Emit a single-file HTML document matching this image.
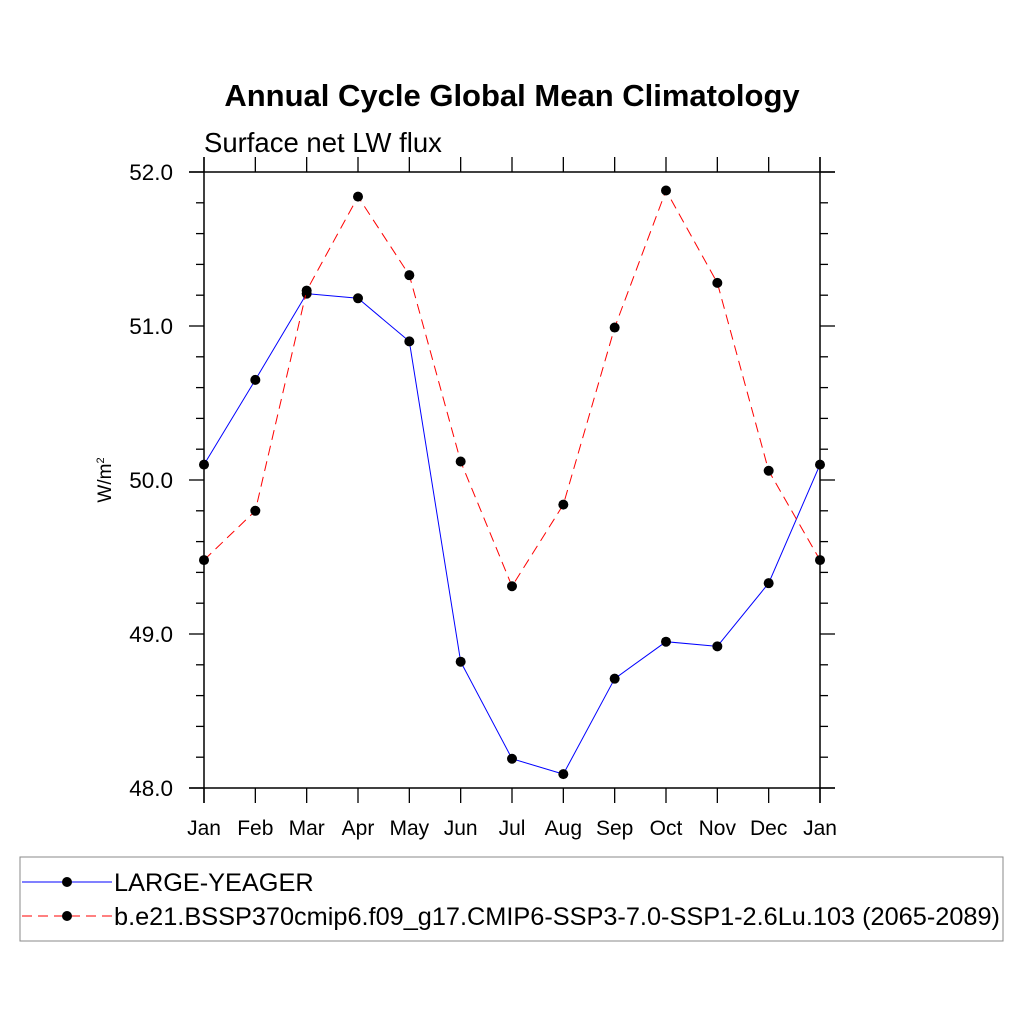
<!DOCTYPE html>
<html><head><meta charset="utf-8"><style>
body{margin:0;background:#fff}
svg text{font-family:"Liberation Sans",sans-serif}
</style></head><body>
<svg id="c" width="1024" height="1024" xmlns="http://www.w3.org/2000/svg">
<text x="512" y="106" text-anchor="middle" font-size="31" font-weight="bold">Annual Cycle Global Mean Climatology</text>
<text x="204" y="152" font-size="27.5">Surface net LW flux</text>
<text transform="translate(111,480) rotate(-90)" text-anchor="middle" font-size="19">W/m<tspan font-size="11" dy="-7">2</tspan></text>
<g id="axes"></g><g id="series"></g>
<rect x="20" y="857" width="983" height="84" fill="none" stroke="#888" stroke-width="1"/>
<g>
<line x1="22" y1="882" x2="112" y2="882" stroke="#00f" stroke-width="1"/>
<circle cx="67" cy="882" r="5" fill="#000"/>
<text x="114" y="891" font-size="25.3">LARGE-YEAGER</text></g>
<g>
<line x1="22" y1="916" x2="112" y2="916" stroke="#f00" stroke-width="1" stroke-dasharray="10,6"/>
<circle cx="67" cy="916" r="5" fill="#000"/>
<text x="114" y="925" font-size="25.3">b.e21.BSSP370cmip6.f09_g17.CMIP6-SSP3-7.0-SSP1-2.6Lu.103 (2065-2089)</text></g>
</svg>
<script>
const months=["Jan","Feb","Mar","Apr","May","Jun","Jul","Aug","Sep","Oct","Nov","Dec","Jan"];
const blueVals=[50.10,50.65,51.21,51.18,50.90,48.82,48.19,48.09,48.71,48.95,48.92,49.33,50.10];
const redVals=[49.48,49.80,51.23,51.84,51.33,50.12,49.31,49.84,50.99,51.88,51.28,50.06,49.48];
const yTicks=[48,49,50,51,52];
const yTickLabels=["48.0","49.0","50.0","51.0","52.0"];
const X0=204,X1=820,Y0=788,Y1=172,YMIN=48,YMAX=52;
const xs=i=>X0+(X1-X0)*i/(months.length-1);
const ys=v=>Y0-(v-YMIN)/(YMAX-YMIN)*(Y0-Y1);
const NS="http://www.w3.org/2000/svg";
function mk(t,a,p){const e=document.createElementNS(NS,t);for(const k in a)e.setAttribute(k,a[k]);p.appendChild(e);return e;}
const ax=document.getElementById('axes');
const frame=mk('path',{d:`M189 ${Y1}H835M189 ${Y0}H835M${X0} 157V803M${X1} 157V803`,stroke:'#000','stroke-width':1.5,fill:'none'},ax);


months.forEach((m,i)=>{
  const x=xs(i);
  mk('line',{x1:x,y1:Y0,x2:x,y2:Y0+15,stroke:'#000','stroke-width':1.3},ax);
  mk('line',{x1:x,y1:Y1,x2:x,y2:Y1-15,stroke:'#000','stroke-width':1.3},ax);
  const t=mk('text',{x:x,y:835,'text-anchor':'middle','font-size':21},ax);t.textContent=m;
  
  
});
for(let v=YMIN;v<=YMAX+1e-9;v+=0.2){
  const y=ys(v);const major=Math.abs(v-Math.round(v))<1e-6;const L=major?15:8;
  mk('line',{x1:X0-L,y1:y,x2:X0,y2:y,stroke:'#000','stroke-width':1.3},ax);
  mk('line',{x1:X1,y1:y,x2:X1+L,y2:y,stroke:'#000','stroke-width':1.3},ax);
}
yTicks.forEach((v,i)=>{
  const t=mk('text',{x:173,y:ys(v)+8,'text-anchor':'end','font-size':22.5},ax);t.textContent=yTickLabels[i];
  
  
});
const sg=document.getElementById('series');
function series(vals,color,dash,name){
  const g=mk('g',{},sg);
  
  
  const a={points:vals.map((v,i)=>xs(i)+','+ys(v)).join(' '),fill:'none',stroke:color,'stroke-width':1};
  if(dash)a['stroke-dasharray']=dash;
  mk('polyline',a,g);
  vals.forEach((v,i)=>{const c=mk('circle',{cx:xs(i),cy:ys(v),r:5,fill:'#000'},g);
    
    });
}
series(blueVals,'#00f',null,'series-large-yeager');
series(redVals,'#f00','10,6','series-ssp');
</script>
</body></html>
